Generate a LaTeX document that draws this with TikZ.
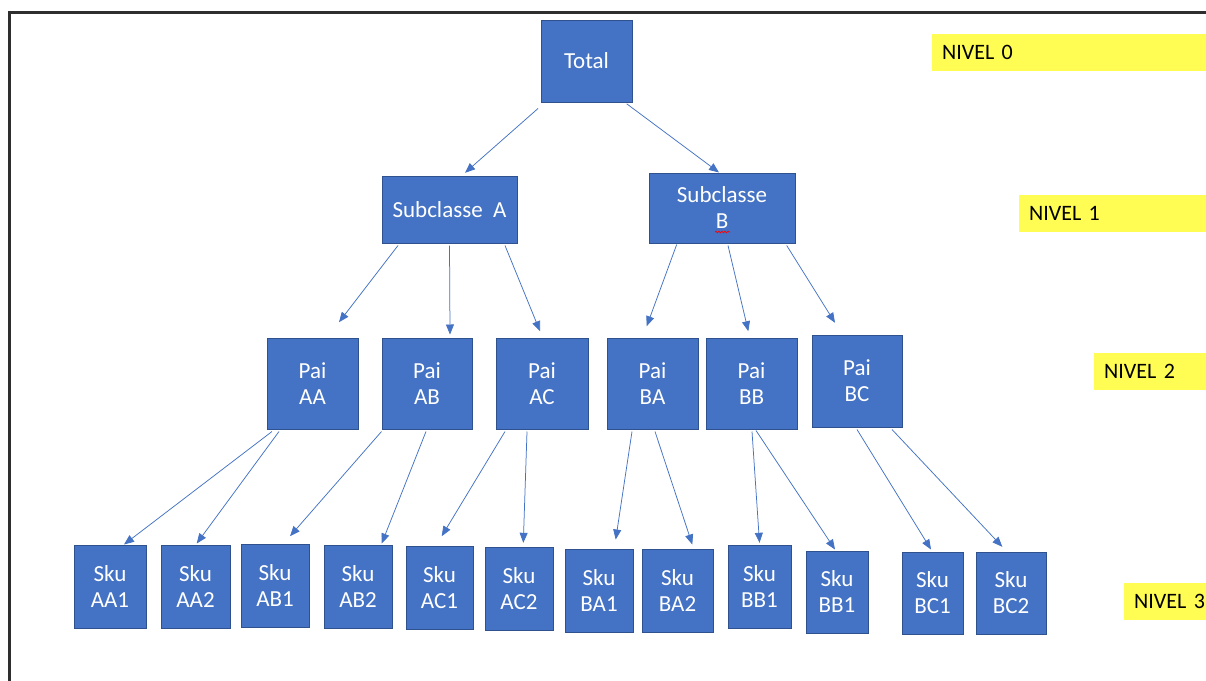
\documentclass[tikz,border=0pt]{standalone}
\usepackage{fontspec}
\setmainfont{Carlito}
\usetikzlibrary{calc,arrows.meta,decorations.pathmorphing}
\definecolor{boxblue}{HTML}{4472C4}
\definecolor{boxedge}{HTML}{2F528F}
\definecolor{lvlyellow}{HTML}{FFFC54}
\definecolor{framegray}{HTML}{2E2E2E}
\begin{document}
\begin{tikzpicture}[x=1pt,y=-1pt,
  box/.style={draw=boxedge, line width=1pt, fill=boxblue, text=white,
    font=\fontsize{23}{26}\selectfont, align=center, inner sep=0pt},
  arr/.style={draw=boxblue, line width=0.75pt, -{Triangle[length=10pt,width=8pt]}},
  lvl/.style={fill=lvlyellow, font=\fontsize{22}{25}\selectfont, anchor=north west,
    align=left, inner xsep=10pt, inner ysep=0pt, minimum height=37pt, text width=300pt}]
\useasboundingbox (0,0) rectangle (1206,680);
\clip (0,0) rectangle (1206,680);
\fill[white] (0,0) rectangle (1206,680);
% frame
\draw[framegray, line width=3pt] (9,700) -- (9,12) -- (1220,12);

% level 0
\node[box, minimum width=91pt, minimum height=82pt] (t) at (586.5,61) {Total};
% level 1
\node[box, minimum width=135pt, minimum height=67pt] (sA) at (449.5,209.5) {Subclasse\ \ A};
\node[box, minimum width=146pt, minimum height=70pt] (sB) at (722,208) {Subclasse\\B};
\draw[red, line width=0.7pt, decorate, decoration={snake, amplitude=0.9pt, segment length=3pt}] (715,232) -- (730,232);
% level 2
\node[box, minimum width=91pt, minimum height=91pt] (pAA) at (312.5,383.5) {Pai\\AA};
\node[box, minimum width=90pt, minimum height=91pt] (pAB) at (427,383.5) {Pai\\AB};
\node[box, minimum width=92pt, minimum height=91pt] (pAC) at (542,383.5) {Pai\\AC};
\node[box, minimum width=91pt, minimum height=91pt] (pBA) at (652.5,383.5) {Pai\\BA};
\node[box, minimum width=91pt, minimum height=91pt] (pBB) at (751.5,383.5) {Pai\\BB};
\node[box, minimum width=90pt, minimum height=92pt] (pBC) at (857,381) {Pai\\BC};
% level 3
\node[box, minimum width=72pt, minimum height=83pt] (kAA1) at (110,586.5) {Sku\\AA1};
\node[box, minimum width=69pt, minimum height=83pt] (kAA2) at (195.5,586.5) {Sku\\AA2};
\node[box, minimum width=68pt, minimum height=83pt] (kAB1) at (275,585.5) {Sku\\AB1};
\node[box, minimum width=68pt, minimum height=83pt] (kAB2) at (358,586.5) {Sku\\AB2};
\node[box, minimum width=67pt, minimum height=83pt] (kAC1) at (439.5,587.5) {Sku\\AC1};
\node[box, minimum width=68pt, minimum height=83pt] (kAC2) at (519,588.5) {Sku\\AC2};
\node[box, minimum width=68pt, minimum height=83pt] (kBA1) at (599,590.5) {Sku\\BA1};
\node[box, minimum width=71pt, minimum height=83pt] (kBA2) at (677.5,590.5) {Sku\\BA2};
\node[box, minimum width=63pt, minimum height=83pt] (kBB1a) at (759.5,586.5) {Sku\\BB1};
\node[box, minimum width=62pt, minimum height=82pt] (kBB1b) at (837,592) {Sku\\BB1};
\node[box, minimum width=61pt, minimum height=82pt] (kBC1) at (932.5,593) {Sku\\BC1};
\node[box, minimum width=70pt, minimum height=82pt] (kBC2) at (1011,593) {Sku\\BC2};

% levels
\node[lvl] (n0) at (932,34) {NIVEL 0};
\node[lvl] (n1) at (1019,195) {NIVEL 1};
\node[lvl] (n2) at (1094,353) {NIVEL 2};
\node[lvl] (n3) at (1124,583) {NIVEL 3};

% connectors
\draw[arr] ($(t.south)+(-48.5,6)$) -- ($(sA.north)+(15.5,-2.7)$);
\draw[arr] ($(t.south)+(40.2,1.3)$) -- ($(sB.north)+(-3,0)$);

\draw[arr] ($(sA.south)+(-51.5,2)$) -- ($(pAA.north)+(26.5,-15.3)$);
\draw[arr] ($(sA.south)+(0,2)$) -- ($(pAB.north)+(23,-3)$);
\draw[arr] ($(sA.south)+(55.5,2)$) -- ($(pAC.north)+(-2,-6.3)$);
\draw[arr] ($(sB.south)+(-45.3,1)$) -- ($(pBA.north)+(-5.8,-11.3)$);
\draw[arr] ($(sB.south)+(6,2)$) -- ($(pBB.north)+(-3.2,-6.3)$);
\draw[arr] ($(sB.south)+(64.7,2)$) -- ($(pBC.north)+(-22,-11.7)$);

\draw[arr] ($(pAA.south)+(-40.5,2)$) -- ($(kAA1.north)+(14,0)$);
\draw[arr] ($(pAA.south)+(-33.5,2)$) -- ($(kAA2.north)+(1.2,-1)$);
\draw[arr] ($(pAB.south)+(-45.5,2)$) -- ($(kAB1.north)+(15,-7.3)$);
\draw[arr] ($(pAB.south)+(-1,2)$) -- ($(kAB2.north)+(23.7,-1)$);
\draw[arr] ($(pAC.south)+(-37,2)$) -- ($(kAC1.north)+(2.2,-9.3)$);
\draw[arr] ($(pAC.south)+(-15,2)$) -- ($(kAC2.north)+(4.3,-3.7)$);
\draw[arr] ($(pBA.south)+(-20.5,2)$) -- ($(kBA1.north)+(16.7,-9)$);
\draw[arr] ($(pBA.south)+(2.5,2)$) -- ($(kBA2.north)+(14.8,-4)$);
\draw[arr] ($(pBB.south)+(0.5,2)$) -- ($(kBB1a.north)+(0,-1.7)$);
\draw[arr] ($(pBB.south)+(4.5,1)$) -- ($(kBB1b.north)+(-2,-1)$);
\draw[arr] ($(pBC.south)+(0,2)$) -- ($(kBC1.north)+(-1.5,-2)$);
\draw[arr] ($(pBC.south)+(35,2)$) -- ($(kBC2.north)+(-8.7,-4.7)$);
\end{tikzpicture}
\end{document}
